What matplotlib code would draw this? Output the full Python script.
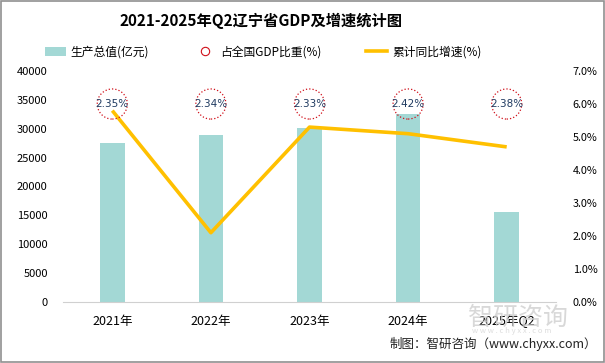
import matplotlib
matplotlib.use("Agg")
import matplotlib.pyplot as plt
from matplotlib.lines import Line2D
from matplotlib.patches import Patch, Rectangle

plt.rcParams['font.family'] = ['Noto Sans CJK SC', 'DejaVu Sans']

categories = ["2021年", "2022年", "2023年", "2024年", "2025年Q2"]
gdp = [27584, 28975, 30209, 32613, 15557]
share = [2.35, 2.34, 2.33, 2.42, 2.38]
growth = [5.8, 2.1, 5.3, 5.1, 4.7]
left_ticks = [0, 5000, 10000, 15000, 20000, 25000, 30000, 35000, 40000]
right_ticks = [0, 1, 2, 3, 4, 5, 6, 7]

bar_color = "#A3D8D5"
line_color = "#FFC000"
circle_color = "#D0101A"

fig = plt.figure(figsize=(6.05, 3.63), dpi=100)
ax = fig.add_axes([63/605, (363-302)/363, (556-63)/605, (302-71)/363])
ax2 = ax.twinx()

x = list(range(len(categories)))
ax.bar(x, gdp, width=0.25, color=bar_color, zorder=2)
ax.set_ylim(0, 40000)
ax.set_xlim(-0.5, len(categories) - 0.5)
ax.set_yticks(left_ticks)
ax.set_yticklabels([str(v) for v in left_ticks], fontsize=8)
ax.set_xticks(x)
ax.set_xticklabels(categories, fontsize=9)

ax2.plot(x, growth, color=line_color, lw=2.6, zorder=3, solid_capstyle='butt')
ax2.set_ylim(0, 7)
ax2.set_yticks(right_ticks)
ax2.set_yticklabels([f"{v:.1f}%" for v in right_ticks], fontsize=7.8)

label_level = 6.0
ax2.scatter(x, [label_level] * len(x), s=470, facecolors='none',
            edgecolors=circle_color, linewidths=0.9, linestyles=':', zorder=4)
for xi, s in zip(x, share):
    ax2.text(xi, label_level, f"{s:.2f}%", ha='center', va='center',
             fontsize=7.5, color='#1F3A60', zorder=5, family=['DejaVu Sans'])

for a in (ax, ax2):
    for sp in a.spines.values():
        sp.set_visible(False)
    a.tick_params(length=0)
ax.spines['bottom'].set_visible(True)
ax.spines['bottom'].set_color('#D0D0D0')
ax.tick_params(axis='y', pad=11)
ax.tick_params(axis='x', pad=9)
ax2.tick_params(axis='y', pad=12)

fig.text(261/605, 1 - 21/363, "2021-2025年Q2辽宁省GDP及增速统计图",
         ha='center', va='center', fontsize=11, fontweight='bold')

handles = [Patch(facecolor=bar_color, edgecolor='none'),
           Line2D([], [], marker='o', ls='none', markerfacecolor='none',
                  markeredgecolor=circle_color, markersize=6, markeredgewidth=0.8),
           Line2D([], [], color=line_color, lw=2.6)]
labels = ["生产总值(亿元)", "占全国GDP比重(%)", "累计同比增速(%)"]
fig.legend(handles, labels, loc='center', bbox_to_anchor=(263/605, 1 - 52/363),
           ncol=3, frameon=False, fontsize=8.5, columnspacing=3.8,
           handlelength=1.8, handletextpad=0.4)

# watermark
fig.text(468/605, 1 - 318/363, "智研咨询", fontsize=18, color='#CFCFCF',
         ha='left', va='center', alpha=0.8, zorder=0)
fig.text(512/605, 1 - 331/363, "w w w . c h y x x . c o m", fontsize=5.5,
         color='#D5D5D5', ha='center', va='center', alpha=0.8, zorder=0)
fig.text(597/605, 1 - 344/363, "制图：智研咨询（www.chyxx.com）", fontsize=9,
         ha='right', va='center', color='#222222')

fig.add_artist(Rectangle((0.001, 0.002), 0.997, 0.996, transform=fig.transFigure,
                         fill=False, edgecolor='#909090', lw=1.2))

fig.savefig("out.png", dpi=100)
